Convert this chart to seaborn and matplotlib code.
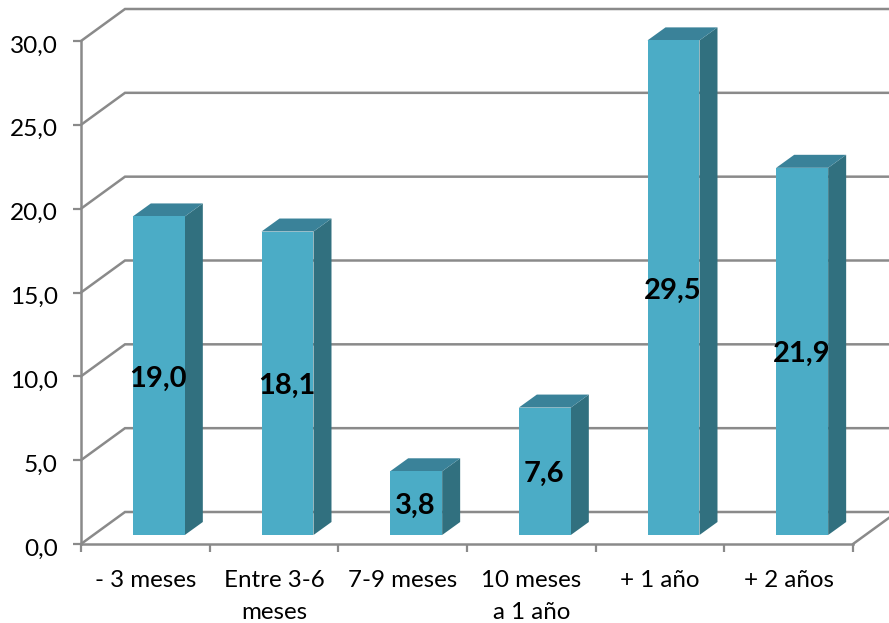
import matplotlib
matplotlib.use("Agg")
import matplotlib.pyplot as plt
import pandas as pd
import seaborn as sns
from matplotlib.patches import Polygon
from matplotlib.transforms import IdentityTransform, ScaledTranslation, offset_copy

categorias = ["- 3 meses", "Entre 3-6\nmeses", "7-9 meses", "10 meses\na 1 año", "+ 1 año", "+ 2 años"]
porcentajes = [19.0, 18.1, 3.8, 7.6, 29.5, 21.9]
marcas_y = [0, 5, 10, 15, 20, 25, 30]

W, H = 889, 623
GRIS = "#8a8a8a"
FRENTE = "#4bacc6"
LATERAL = "#31707f"
TAPA = "#3a8299"
px = 1 / 100

sns.set_theme(style="white", rc={"font.family": ["Lato", "DejaVu Sans"]})
fig = plt.figure(figsize=(W * px, H * px), dpi=100, facecolor="white")


def caja(izq, der, sup, inf):
    return [izq / W, 1 - inf / H, (der - izq) / W, (inf - sup) / H]


# Ejes principales: marco frontal del gráfico en perspectiva
ax = fig.add_axes(caja(81, 853, 41, 544))
ax.set_xlim(0, 6)
ax.set_ylim(0, 30)
ax.patch.set_alpha(0)
for lado in ("top", "right"):
    ax.spines[lado].set_visible(False)
for lado in ("left", "bottom"):
    ax.spines[lado].set_color(GRIS)
    ax.spines[lado].set_linewidth(1.8)
ax.set_yticks(marcas_y, [f"{v:.1f}".replace(".", ",") for v in marcas_y])
ax.set_xticks(range(7), [""] * 7)
ax.tick_params(axis="both", which="both", left=True, bottom=True, length=5.8, width=1.6,
               color=GRIS, labelcolor="black")
ax.tick_params(axis="y", labelsize=17.6, pad=11)
for etiqueta in ax.get_yticklabels():
    etiqueta.set_transform(etiqueta.get_transform()
                           + ScaledTranslation(0, -3 * px, fig.dpi_scale_trans))

# Fondo: líneas de cuadrícula desplazadas hacia atrás, con su diagonal lateral
fondo_dx, fondo_dy = 44, 32
for v in marcas_y:
    x0, y0 = ax.transData.transform((0, v))
    x1, y1 = ax.transData.transform((6, v))
    ax.plot([x0, x0 + fondo_dx, x1 + fondo_dx], [y0, y0 + fondo_dy, y1 + fondo_dy],
            color=GRIS, lw=1.8, transform=IdentityTransform(), clip_on=False, zorder=1,
            solid_joinstyle="miter")
xd, yd = ax.transData.transform((6, 0))
ax.plot([xd, xd + fondo_dx], [yd, yd + fondo_dy], color=GRIS, lw=1.8,
        transform=IdentityTransform(), clip_on=False, zorder=1)

# Ejes de las barras: mismo sistema, adelantados sobre el suelo del gráfico
ax_b = fig.add_axes(caja(94.5, 866.5, 32, 535))
ax_b.patch.set_alpha(0)
datos = pd.DataFrame({"categoria": categorias, "porcentaje": porcentajes})
sns.barplot(data=datos, x="categoria", y="porcentaje", color=FRENTE, saturation=1,
            width=0.404, ax=ax_b, zorder=3, edgecolor="none", linewidth=0)
ax_b.set_xlim(-0.5, 5.5)
ax_b.set_ylim(0, 30)
ax_b.axis("off")

# Caras lateral y superior de cada barra
prof_x, prof_y = 18, 13
for barra, valor in zip(ax_b.patches, porcentajes):
    (x0, y0), (x1, y1) = ax_b.transData.transform(
        [(barra.get_x(), 0), (barra.get_x() + barra.get_width(), barra.get_height())])
    lateral = [(x1, y0), (x1 + prof_x, y0 + prof_y), (x1 + prof_x, y1 + prof_y), (x1, y1)]
    tapa = [(x0, y1), (x1, y1), (x1 + prof_x, y1 + prof_y), (x0 + prof_x, y1 + prof_y)]
    ax_b.add_patch(Polygon(lateral, closed=True, fc=LATERAL, ec="none",
                           transform=IdentityTransform(), clip_on=False, zorder=2))
    ax_b.add_patch(Polygon(tapa, closed=True, fc=TAPA, ec="none",
                           transform=IdentityTransform(), clip_on=False, zorder=2))
    ax_b.text(barra.get_x() + barra.get_width() / 2, valor / 2,
              f"{valor:.1f}".replace(".", ","),
              ha="center", va="center", fontsize=21, fontweight="bold", color="black",
              clip_on=False, zorder=5,
              transform=offset_copy(ax_b.transData, fig=fig, x=-0.5, y=-2, units="points"))

# Rótulos de categoría centrados en cada tramo del eje frontal
for i, nombre in enumerate(categorias):
    ax.text(i + 0.5, 0, nombre, ha="center", va="top", fontsize=17.4, color="black",
            linespacing=1.66, clip_on=False,
            transform=ax.transData + ScaledTranslation(0, -26 * px, fig.dpi_scale_trans))

fig.savefig("out.png", dpi=100, facecolor="white")
